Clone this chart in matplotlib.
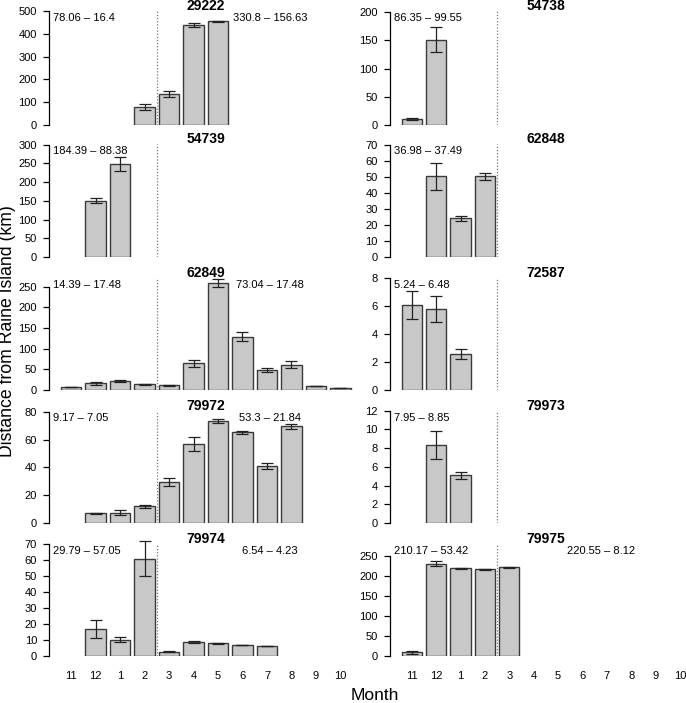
import numpy as np
import matplotlib
matplotlib.use("Agg")
import matplotlib.pyplot as plt
from matplotlib.transforms import blended_transform_factory

plt.rcParams['font.family'] = ['Liberation Sans', 'DejaVu Sans']

nan = np.nan

# month order on the x axis
months = ["11", "12", "1", "2", "3", "4", "5", "6", "7", "8", "9", "10"]

# panels in reading order (row by row, left then right)
ids = ["29222", "54738", "54739", "62848", "62849",
       "72587", "79972", "79973", "79974", "79975"]

# mean distance per month (km) and error half-widths
mean_29222 = [nan, nan, nan, 78, 136, 440, 455, nan, nan, nan, nan, nan]
err_29222 = [nan, nan, nan, 12, 13, 8, 2, nan, nan, nan, nan, nan]
mean_54738 = [10.7, 151, nan, nan, nan, nan, nan, nan, nan, nan, nan, nan]
err_54738 = [1.5, 22, nan, nan, nan, nan, nan, nan, nan, nan, nan, nan]
mean_54739 = [nan, 151, 248, nan, nan, nan, nan, nan, nan, nan, nan, nan]
err_54739 = [nan, 8, 18, nan, nan, nan, nan, nan, nan, nan, nan, nan]
mean_62848 = [nan, 50.3, 24.1, 50.3, nan, nan, nan, nan, nan, nan, nan, nan]
err_62848 = [nan, 8.6, 1.5, 2, nan, nan, nan, nan, nan, nan, nan, nan]
mean_62849 = [7.2, 16, 21.7, 13.7, 11.3, 64.3, 258, 128.6, 48, 61, 9.6, 5.6]
err_62849 = [0.3, 4, 2, 1.5, 0.8, 8, 10, 11, 5.5, 9, 0.5, 0.3]
mean_72587 = [6.1, 5.8, 2.57, nan, nan, nan, nan, nan, nan, nan, nan, nan]
err_72587 = [1.0, 0.95, 0.38, nan, nan, nan, nan, nan, nan, nan, nan, nan]
mean_79972 = [nan, 7.1, 7.4, 11.9, 29.5, 56.9, 73.6, 65.2, 41, 69.5, nan, nan]
err_79972 = [nan, 0.4, 1.8, 1.4, 2.7, 5.2, 1.5, 1, 2.3, 2.1, nan, nan]
mean_79973 = [nan, 8.34, 5.11, nan, nan, nan, nan, nan, nan, nan, nan, nan]
err_79973 = [nan, 1.5, 0.37, nan, nan, nan, nan, nan, nan, nan, nan, nan]
mean_79974 = [nan, 17.1, 10.3, 61, 2.8, 8.8, 7.9, 6.9, 6.2, nan, nan, nan]
err_79974 = [nan, 5.7, 1.3, 10.8, 0.3, 0.6, 0.5, 0.2, 0.1, nan, nan, nan]
mean_79975 = [9, 231, 219, 216.5, 221.5, nan, nan, nan, nan, nan, nan, nan]
err_79975 = [4.5, 7, 1, 1, 0.8, nan, nan, nan, nan, nan, nan, nan]

means = [mean_29222, mean_54738, mean_54739, mean_62848, mean_62849,
         mean_72587, mean_79972, mean_79973, mean_79974, mean_79975]
errs = [err_29222, err_54738, err_54739, err_62848, err_62849,
        err_72587, err_79972, err_79973, err_79974, err_79975]

# annotation texts (before / after)
text_before = ["78.06 \u2013 16.4", "86.35 \u2013 99.55", "184.39 \u2013 88.38",
               "36.98 \u2013 37.49", "14.39 \u2013 17.48", "5.24 \u2013 6.48",
               "9.17 \u2013 7.05", "7.95 \u2013 8.85", "29.79 \u2013 57.05",
               "210.17 \u2013 53.42"]
text_after = ["330.8 \u2013 156.63", None, None, None, "73.04 \u2013 17.48",
              None, "53.3 \u2013 21.84", None, "6.54 \u2013 4.23",
              "220.55 \u2013 8.12"]

# y-axis limits and tick spacing per panel
ytop = [500, 202, 302, 70.5, 272, 8.07, 81, 12, 70.5, 281]
ystep = [100, 50, 50, 10, 50, 2, 20, 2, 10, 50]

W, H = 686, 703
fig = plt.figure(figsize=(W / 100, H / 100), dpi=100)

col_x = [(49.2, 362.3), (390.0, 701.8)]
row_y = [(11, 125), (144, 257), (277.5, 390), (410.5, 523), (543.5, 656)]

xpos = 0.7 + 1.2 * np.arange(len(months))

for k, pid in enumerate(ids):
    r, c = divmod(k, 2)
    x0, x1 = col_x[c]
    yt, yb = row_y[r]
    ax = fig.add_axes([x0 / W, 1 - yb / H, (x1 - x0) / W, (yb - yt) / H])
    ax.patch.set_visible(False)

    m = np.array(means[k], dtype=float)
    e = np.array(errs[k], dtype=float)
    ok = ~np.isnan(m)
    ax.bar(xpos[ok], m[ok], width=1.0, color="#c8c8c8",
           edgecolor="#3a3a3a", linewidth=1.0, zorder=2)
    eb = ax.errorbar(xpos[ok], m[ok], yerr=e[ok], fmt="none", ecolor="#222222",
                     elinewidth=0.9, capsize=4.3, capthick=0.9, zorder=3)
    for art in eb.lines[1] + eb.lines[2]:
        art.set_clip_on(False)

    # dotted divider between month 2 and month 3
    ax.axvline(4.9, color="#777777", linestyle=(0, (1, 1.5)),
               linewidth=0.9, zorder=1)

    ax.set_xlim(-0.368, 14.968)
    ax.set_ylim(0, ytop[k])
    ticks = np.arange(0, ytop[k] + 1e-9, ystep[k])
    ax.set_yticks(ticks)
    ax.set_yticklabels([f"{t:g}" for t in ticks])
    for s in ["top", "right", "bottom"]:
        ax.spines[s].set_visible(False)
    ax.spines["left"].set_bounds(0, ticks[-1])
    ax.spines["left"].set_linewidth(0.9)
    ax.tick_params(axis="y", length=4.3, width=0.9, pad=4.5, labelsize=8)

    if r == 4:
        ax.set_xticks(xpos)
        ax.set_xticklabels(months)
        ax.tick_params(axis="x", length=0, pad=11, labelsize=8)
    else:
        ax.set_xticks([])

    ax.text(0.5, 1 + 1 / 113, pid, transform=ax.transAxes, ha="center",
            va="baseline", fontsize=10, fontweight="bold")

    tr = blended_transform_factory(ax.transData, ax.transAxes)
    ax.text(-0.17, 0.935, text_before[k], transform=tr,
            ha="left", va="center", fontsize=8)
    if text_after[k] is not None:
        xr = 10.45 if c == 0 else 10.0
        ax.text(xr, 0.935, text_after[k], transform=tr,
                ha="center", va="center", fontsize=8)

fig.text(8 / W, 1 - 331 / H, "Distance from Raine Island (km)", rotation=90,
         ha="center", va="center", fontsize=12.7)
fig.text(374.5 / W, 1 - 696 / H, "Month", ha="center", va="center", fontsize=12.5)

fig.savefig("out.png", dpi=100)
